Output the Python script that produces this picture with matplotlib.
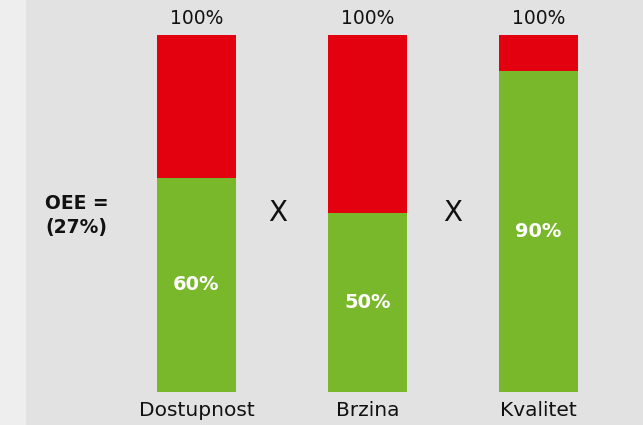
import matplotlib.pyplot as plt
from matplotlib.patches import Rectangle

categories = ['Dostupnost', 'Brzina', 'Kvalitet']
good = [60, 50, 90]
total = [100, 100, 100]
inner_labels = ['60%', '50%', '90%']
top_labels = ['100%', '100%', '100%']
oee_text = 'OEE =\n(27%)'

red = '#e3000f'
green = '#78b82a'

fig = plt.figure(figsize=(6.43, 4.25), dpi=100, facecolor='#e2e2e2')
# lighter strip on the left edge
fig.patches.append(Rectangle((0, 0), 26 / 643, 1, transform=fig.transFigure,
                             facecolor='#eeeeee', edgecolor='none', zorder=0))

ax = fig.add_axes([0, 0, 1, 1])
ax.set_facecolor('none')
x = list(range(len(categories)))
rest = [t - g for t, g in zip(total, good)]

ax.bar(x, good, width=0.462, color=green)
ax.bar(x, rest, bottom=good, width=0.462, color=red)

for i in x:
    ax.text(i, total[i] + 4.5, top_labels[i], ha='center', va='center',
            fontsize=13.5, color='#111111')
    ax.text(i, good[i] / 2, inner_labels[i], ha='center', va='center',
            fontsize=14, fontweight='bold', color='white')
    ax.text(i, -5.2, categories[i], ha='center', va='center',
            fontsize=14.5, color='#111111')

# multiplication signs between the bars
for xm in [0.477, 1.5]:
    ax.text(xm, 50, 'X', ha='center', va='center', fontsize=20,
            color='#111111')

ax.text(-0.886, 49.5, oee_text, ha='left', va='center', fontsize=13.5,
        fontweight='bold', color='#111111', linespacing=1.35)

ax.set_xlim(-1.149, 2.611)
ax.set_ylim(-9.24, 109.8)
ax.axis('off')

fig.savefig('out.png', dpi=100, facecolor=fig.get_facecolor())
